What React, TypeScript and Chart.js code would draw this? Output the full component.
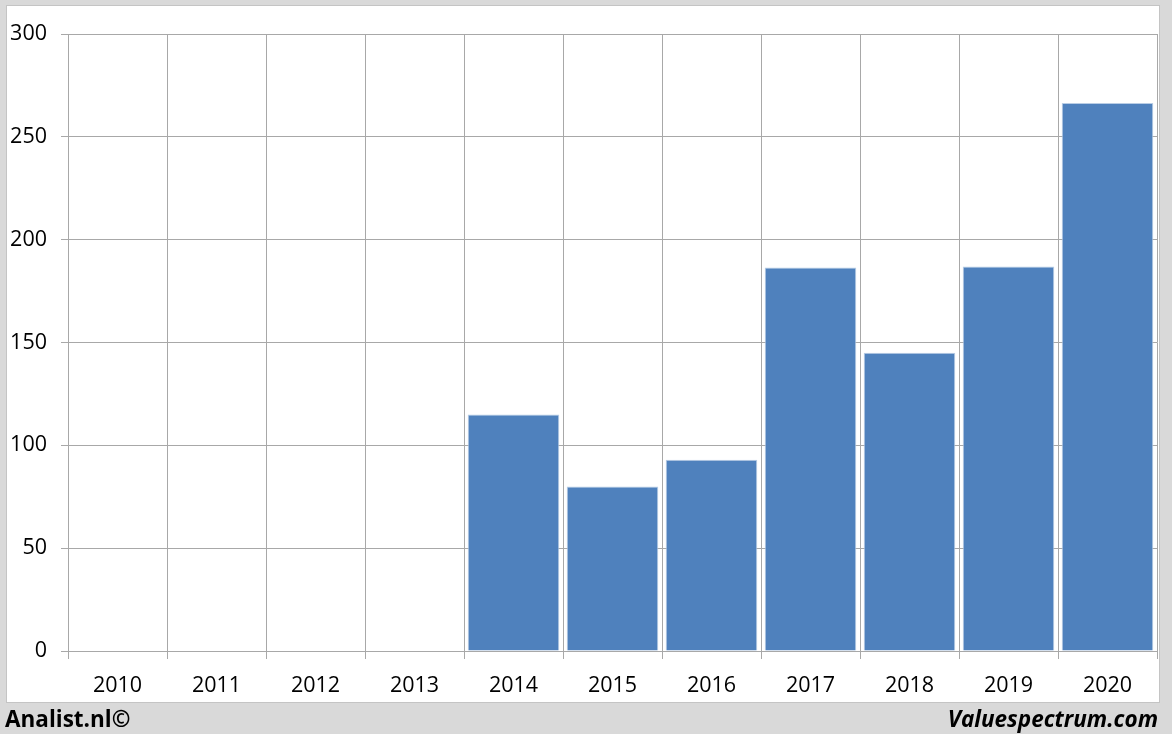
import React, { useEffect, useRef } from "react";
import { Chart, registerables } from "chart.js";

Chart.register(...registerables);

const years = ["2010", "2011", "2012", "2013", "2014", "2015", "2016", "2017", "2018", "2019", "2020"];
const values: (number | null)[] = [null, null, null, null, 115, 80, 93, 186.5, 145, 187, 266.5];
const yTicks = [0, 50, 100, 150, 200, 250, 300];
const leftCredit = "Analist.nl©";
const rightCredit = "Valuespectrum.com";

const FONT = "'Open Sans', 'Noto Sans', sans-serif";
const GRID = "#a8a8a8";

const framePlugin = {
  id: "frame",
  beforeDraw(chart: any) {
    const { ctx, width, height } = chart;
    ctx.save();
    ctx.fillStyle = "#d9d9d9";
    ctx.fillRect(0, 0, width, height);
    ctx.fillStyle = "#ffffff";
    ctx.fillRect(7, 6, 1152, 696);
    ctx.strokeStyle = "#c4c4c4";
    ctx.lineWidth = 1;
    ctx.strokeRect(6.5, 5.5, 1153, 697);
    ctx.restore();
  },
  afterDraw(chart: any) {
    const { ctx } = chart;
    ctx.save();
    ctx.fillStyle = "#000000";
    ctx.textBaseline = "alphabetic";
    ctx.font = `bold 22.5px ${FONT}`;
    ctx.textAlign = "left";
    ctx.fillText(leftCredit, 5, 727);
    ctx.font = `italic bold 22.5px ${FONT}`;
    ctx.textAlign = "right";
    ctx.fillText(rightCredit, 1158, 727);
    ctx.restore();
  },
};

export default function App() {
  const ref = useRef<HTMLCanvasElement | null>(null);
  useEffect(() => {
    document.body.style.margin = "0";
    const chart = new Chart(ref.current as HTMLCanvasElement, {
      type: "bar",
      data: {
        labels: years,
        datasets: [
          {
            data: values,
            backgroundColor: "#4f81bd",
            borderColor: "#b9cde5",
            borderWidth: 1,
            barPercentage: 0.925,
            categoryPercentage: 1,
          },
        ],
      },
      options: {
        responsive: false,
        animation: false,
        maintainAspectRatio: false,
        layout: { padding: { left: 0, right: 15, top: 34, bottom: 0 } },
        plugins: { legend: { display: false }, tooltip: { enabled: false } },
        scales: {
          x: {
            offset: true,
            grid: { offset: true, color: GRID, lineWidth: 1, tickLength: 8, drawOnChartArea: true },
            border: { color: GRID },
            ticks: { color: "#000", font: { family: FONT, size: 21.5 }, padding: 14, maxRotation: 0 },
            afterFit(scale: any) {
              scale.height = 83;
            },
          },
          y: {
            min: 0,
            max: 300,
            afterBuildTicks(scale: any) {
              scale.ticks = yTicks.map((v) => ({ value: v }));
            },
            grid: { color: GRID, lineWidth: 1, tickLength: 7 },
            border: { color: GRID },
            ticks: { color: "#000", font: { family: FONT, size: 21.5 }, padding: 14 },
            afterFit(scale: any) {
              scale.width = 68;
            },
          },
        },
      },
      plugins: [framePlugin],
    } as any);
    return () => chart.destroy();
  }, []);
  return (
    <div style={{ position: "absolute", left: 0, top: 0, width: 1172, height: 734 }}>
      <canvas ref={ref} width={1172} height={734} style={{ width: 1172, height: 734, display: "block" }} />
    </div>
  );
}
